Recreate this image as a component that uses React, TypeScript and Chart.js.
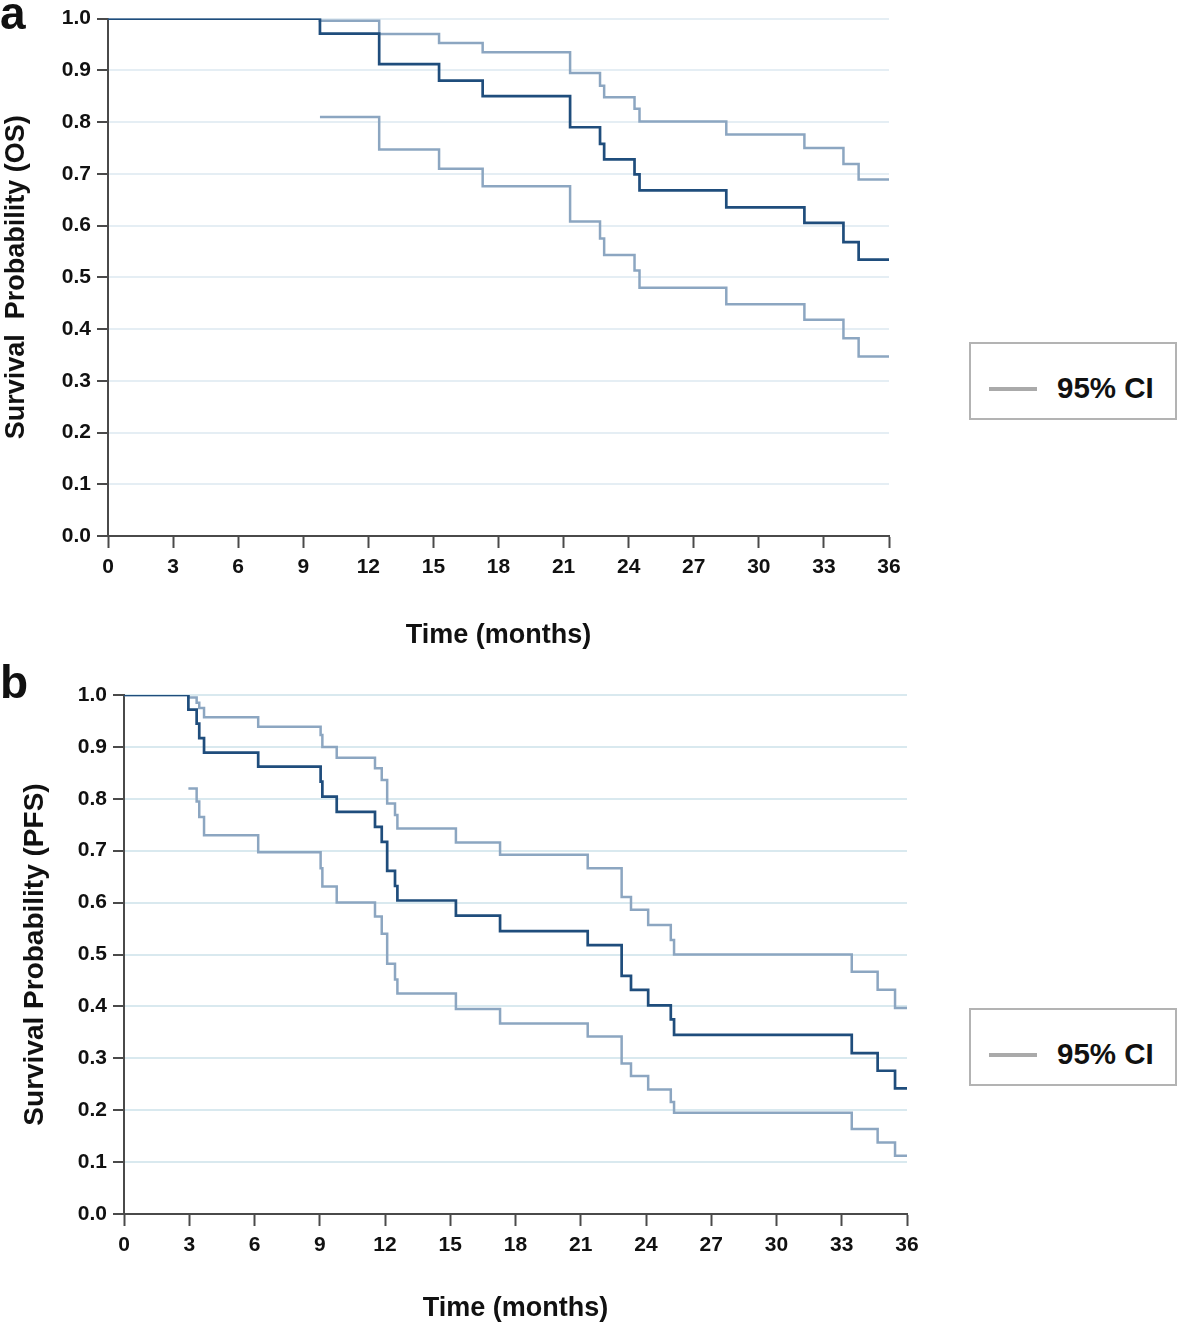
import React, { useEffect, useRef } from "react";
import { Chart, registerables } from "chart.js";

Chart.register(...registerables);

// ---------- Panel a: Overall survival ----------
const osTimes = [0, 9.77, 12.5, 15.26, 17.27, 21.3, 22.68, 22.87, 24.27, 24.5, 28.5, 32.1, 33.9, 34.6, 36];
const osSurv = [1.0, 0.971, 0.912, 0.88, 0.85, 0.79, 0.758, 0.728, 0.699, 0.668, 0.635, 0.605, 0.568, 0.534, 0.534];
const osUpper = [1.0, 0.996, 0.97, 0.953, 0.935, 0.895, 0.87, 0.848, 0.826, 0.801, 0.776, 0.75, 0.719, 0.689, 0.689];
const osLower = [null, 0.81, 0.747, 0.71, 0.676, 0.608, 0.575, 0.543, 0.513, 0.48, 0.448, 0.418, 0.382, 0.347, 0.347];

// ---------- Panel b: Progression-free survival ----------
const pfsTimes = [0, 2.96, 3.34, 3.46, 3.68, 6.17, 9.04, 9.12, 9.78, 11.54, 11.85, 12.1, 12.46, 12.57, 15.26, 17.29, 21.32, 22.88, 23.31, 24.1, 25.14, 25.29, 33.46, 34.65, 35.45, 36];
const pfsSurv = [1.0, 0.972, 0.945, 0.917, 0.889, 0.862, 0.833, 0.804, 0.775, 0.746, 0.717, 0.661, 0.632, 0.604, 0.575, 0.545, 0.518, 0.459, 0.432, 0.402, 0.375, 0.345, 0.31, 0.276, 0.242, 0.242];
const pfsUpper = [1.0, 0.995, 0.985, 0.975, 0.957, 0.939, 0.923, 0.9, 0.879, 0.859, 0.836, 0.791, 0.769, 0.743, 0.716, 0.692, 0.666, 0.611, 0.586, 0.557, 0.528, 0.5, 0.467, 0.432, 0.397, 0.397];
const pfsLower = [null, 0.82, 0.795, 0.765, 0.73, 0.697, 0.666, 0.631, 0.6, 0.573, 0.54, 0.482, 0.452, 0.425, 0.395, 0.367, 0.342, 0.29, 0.266, 0.24, 0.216, 0.195, 0.164, 0.138, 0.112, 0.112];

// ---------- Axes / labels ----------
const xMin = 0;
const xMax = 36;
const xStep = 3;
const yMin = 0;
const yMax = 1;
const yStep = 0.1;
const xTitle = "Time (months)";
const legendLabel = "95% CI";

const FONT = "'Liberation Sans', Arial, Helvetica, sans-serif";
const MAIN_COLOR = "#1f4d7c";
const CI_COLOR = "#8ca6c1";
const AXIS_COLOR = "#4a4a4a";

type KMProps = {
  width: number;
  height: number;
  padTop: number;
  padRight: number;
  yAxisWidth: number;
  xAxisHeight: number;
  yTitle: string;
  yTitleSize: number;
  yTitlePad: number;
  xTitlePad: number;
  gridColor: string;
  times: number[];
  surv: (number | null)[];
  upper: (number | null)[];
  lower: (number | null)[];
};

function toPoints(times: number[], vals: (number | null)[]) {
  return times.map((t, i) => ({ x: t, y: vals[i] }));
}

function KMChart(p: KMProps) {
  const ref = useRef<HTMLCanvasElement | null>(null);
  useEffect(() => {
    if (!ref.current) return;
    const chart = new Chart(ref.current, {
      type: "line",
      data: {
        datasets: [
          {
            label: "Survival",
            data: toPoints(p.times, p.surv),
            borderColor: MAIN_COLOR,
            borderWidth: 2.7,
            pointRadius: 0,
            stepped: true,
            fill: false,
          },
          {
            label: "Upper 95% CI",
            data: toPoints(p.times, p.upper),
            borderColor: CI_COLOR,
            borderWidth: 2.5,
            pointRadius: 0,
            stepped: true,
            fill: false,
          },
          {
            label: "Lower 95% CI",
            data: toPoints(p.times, p.lower),
            borderColor: CI_COLOR,
            borderWidth: 2.5,
            pointRadius: 0,
            stepped: true,
            fill: false,
          },
        ],
      } as any,
      options: {
        responsive: false,
        animation: false,
        devicePixelRatio: 1,
        parsing: false as any,
        normalized: true,
        layout: { padding: { top: p.padTop, right: p.padRight, left: 0, bottom: 0 } },
        plugins: { legend: { display: false }, tooltip: { enabled: false }, title: { display: false } },
        scales: {
          x: {
            type: "linear",
            min: xMin,
            max: xMax,
            afterFit: (s: any) => {
              s.height = p.xAxisHeight;
            },
            ticks: {
              stepSize: xStep,
              autoSkip: false,
              maxRotation: 0,
              padding: 7,
              color: "#111",
              font: { family: FONT, size: 21, weight: "bold" },
            },
            grid: {
              drawOnChartArea: false,
              drawTicks: true,
              tickLength: 12,
              tickColor: AXIS_COLOR,
              tickWidth: 2,
            },
            border: { display: true, color: AXIS_COLOR, width: 2 },
            title: {
              display: true,
              text: xTitle,
              color: "#111",
              font: { family: FONT, size: 27, weight: "bold" },
              padding: { top: 0, bottom: p.xTitlePad },
            },
          },
          y: {
            type: "linear",
            min: yMin,
            max: yMax,
            afterFit: (s: any) => {
              s.width = p.yAxisWidth;
            },
            ticks: {
              stepSize: yStep,
              padding: 6,
              color: "#111",
              font: { family: FONT, size: 21, weight: "bold" },
              callback: (v: any) => Number(v).toFixed(1),
            },
            grid: {
              color: p.gridColor,
              lineWidth: 2,
              drawTicks: true,
              tickLength: 11,
              tickColor: AXIS_COLOR,
              tickWidth: 2,
            },
            border: { display: true, color: AXIS_COLOR, width: 2 },
            title: {
              display: true,
              text: p.yTitle,
              color: "#111",
              font: { family: FONT, size: p.yTitleSize, weight: "bold" },
              padding: { top: p.yTitlePad, bottom: 0 },
            },
          },
        },
      } as any,
    });
    return () => chart.destroy();
  }, []);
  return <canvas ref={ref} width={p.width} height={p.height} style={{ display: "block", width: p.width, height: p.height }} />;
}

function LegendBox({ top }: { top: number }) {
  return (
    <div
      style={{
        position: "absolute",
        left: 969,
        top,
        width: 208,
        height: 78,
        boxSizing: "border-box",
        border: "2px solid #b3b3b3",
        background: "#fff",
      }}
    >
      <div style={{ position: "absolute", left: 18, top: 43, width: 48, height: 4, background: "#aaaaaa" }} />
      <div
        style={{
          position: "absolute",
          left: 86,
          top: 26,
          fontFamily: FONT,
          fontWeight: "bold",
          fontSize: 29.5,
          lineHeight: "35px",
          color: "#111",
          whiteSpace: "nowrap",
        }}
      >
        {legendLabel}
      </div>
    </div>
  );
}

const panelLabelStyle: React.CSSProperties = {
  position: "absolute",
  left: 0,
  fontFamily: FONT,
  fontWeight: "bold",
  fontSize: 46,
  lineHeight: "46px",
  color: "#111",
};

export default function App() {
  return (
    <div style={{ position: "absolute", left: 0, top: 0, width: 1181, height: 1325, background: "#fff", overflow: "hidden" }}>
      <div style={{ position: "absolute", left: 0, top: 0 }}>
        <KMChart
          width={960}
          height={660}
          padTop={17}
          padRight={71}
          yAxisWidth={108}
          xAxisHeight={124}
          yTitle={"Survival  Probability (OS)"}
          yTitleSize={27}
          yTitlePad={0}
          xTitlePad={8}
          gridColor={"#e5eef4"}
          times={osTimes}
          surv={osSurv}
          upper={osUpper}
          lower={osLower}
        />
      </div>
      <div style={{ position: "absolute", left: 0, top: 660 }}>
        <KMChart
          width={960}
          height={665}
          padTop={35}
          padRight={53}
          yAxisWidth={124}
          xAxisHeight={111}
          yTitle={"Survival Probability (PFS)"}
          yTitleSize={28}
          yTitlePad={18}
          xTitlePad={0}
          gridColor={"#d9e9ef"}
          times={pfsTimes}
          surv={pfsSurv}
          upper={pfsUpper}
          lower={pfsLower}
        />
      </div>
      <div style={{ ...panelLabelStyle, top: -10 }}>a</div>
      <div style={{ ...panelLabelStyle, top: 659 }}>b</div>
      <LegendBox top={342} />
      <LegendBox top={1008} />
    </div>
  );
}
